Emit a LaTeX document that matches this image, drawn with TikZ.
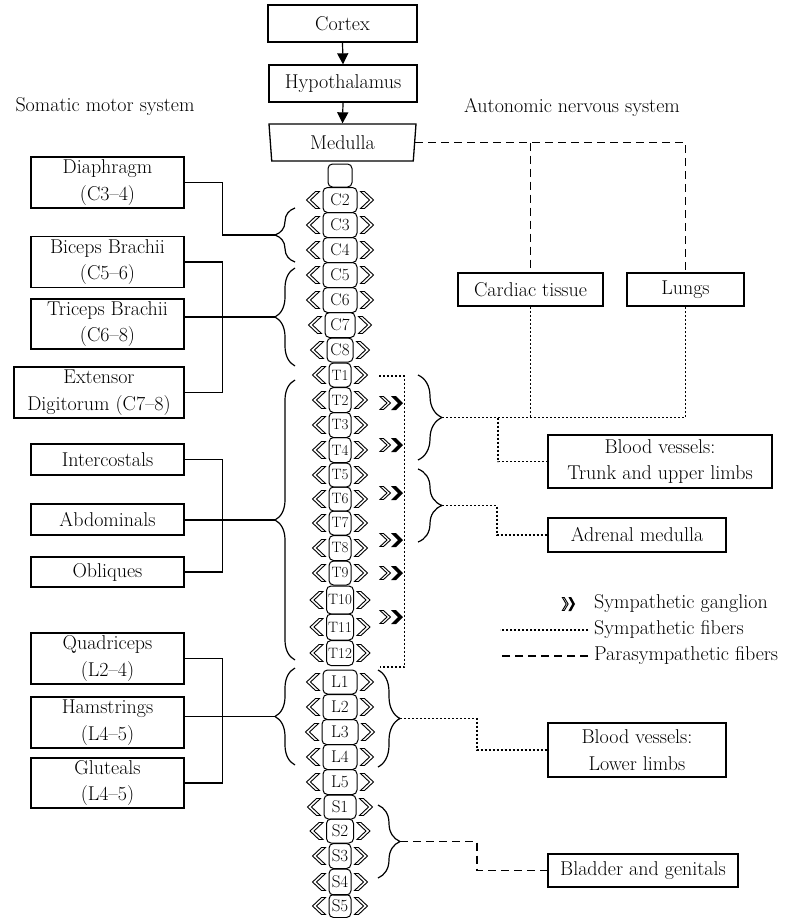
\documentclass[tikz,border=0pt]{standalone}
\usepackage{fontspec}
\usetikzlibrary{arrows.meta,shapes.geometric,decorations.pathreplacing,calc}
\tikzset{
  lchev/.pic={\draw[line width=0.9pt,line join=miter] (-7,-8.5) -- (-16,0) -- (-7,8.5) -- (-3,8.5) -- (-12,0) -- (-3,-8.5) -- cycle;},
  rchev/.pic={\draw[line width=0.9pt,line join=miter] (7,-8.5) -- (16,0) -- (7,8.5) -- (3,8.5) -- (12,0) -- (3,-8.5) -- cycle;},
  ganglion/.pic={
    \draw[line width=0.9pt,line join=miter] (-23,-6.5) -- (-16,0) -- (-23,6.5) -- (-19.5,6.5) -- (-12.5,0) -- (-19.5,-6.5) -- cycle;
    \fill (-12,-7) -- (-5,0) -- (-12,7) -- (-7,7) -- (0,0) -- (-7,-7) -- cycle;
  },
}
\begin{document}
\begin{tikzpicture}[x=1pt,y=-1pt,
  every node/.style={font=\fontsize{20}{26.5}\selectfont},
  box/.style={draw, line width=1.3pt, inner sep=0pt, align=center},
  vbox/.style={draw, line width=1pt, rounded corners=4.5pt, inner sep=0pt},
  lbl/.style={inner sep=0pt},
  conn/.style={line width=1.2pt},
  arr/.style={line width=1.2pt, -{Triangle[length=11pt,width=11pt]}},
  symp/.style={line width=1.2pt, dash pattern=on 2pt off 2pt},
  para/.style={line width=1.2pt, dash pattern=on 8pt off 5pt},
  lbrace/.style={line width=1.2pt, decorate, decoration={brace, amplitude=20pt}},
  rbraceA/.style={line width=1.2pt, decorate, decoration={brace, amplitude=24pt}},
  rbraceB/.style={line width=1.2pt, decorate, decoration={brace, amplitude=22pt}},
]
\useasboundingbox (0,0) rectangle (798,918);

% top chain
\node[box, minimum width=149pt, minimum height=37pt] (cortex) at (342.5,23.5) {Cortex};
\node[box, minimum width=148pt, minimum height=37pt] (hypo) at (343,83.5) {Hypothalamus};
\node[draw, line width=1.3pt, trapezium, trapezium left angle=101, trapezium right angle=101,
      trapezium stretches body, minimum width=147pt, minimum height=37pt, inner sep=0pt] (medulla) at (342.5,142.5) {Medulla};
\draw[arr] (cortex.south) -- (hypo.north);
\draw[arr] (hypo.south) -- (medulla.north);

% headers
\node[lbl] (somatic) at (105,107) {Somatic motor system};
\node[lbl] (autonomic) at (572,107) {Autonomic nervous system};

% spinal column
\node[vbox, minimum width=24pt, minimum height=23pt] (vtop) at (340,175.5) {};
\foreach \n/\y/\w/\h/\f in {C2/200/34/25/17, C3/225/34/25/17, C4/250/34/25/17, C5/275/34/25/17,
  C6/300/34/25/17, C7/325/30/25/17, C8/350/26/24/17, T1/375/22/24/15, T2/400/22/25/15,
  T3/425/22/25/15, T4/450/22/25/15, T5/475/22/24/15, T6/499/22/24/15, T7/523/22/24/15,
  T8/548/22/25/15, T9/573/22/24/15, T10/600/27/28/15, T11/627/27/26/15, T12/653/27/25/15,
  L1/682/34/24/17, L2/707/34/25/17, L3/732/36/25/17, L4/757/34/25/17, L5/782/34/25/17,
  S1/807/32/24/17, S2/831/27/24/17, S3/856/22/25/17, S4/882/22/26/17, S5/906/22/23/17}{
  \node[vbox, minimum width=\w pt, minimum height=\h pt, font=\fontsize{\f}{\f}\selectfont] (v\n) at (340,\y) {\n};
  \pic at (v\n.west) {lchev};
  \pic at (v\n.east) {rchev};
}

% left muscle boxes
\node[box, minimum width=153pt, minimum height=51pt] (diaphragm) at (107.5,182.5) {Diaphragm\\(C3--4)};
\node[box, minimum width=153pt, minimum height=51pt] (biceps) at (107.5,262) {Biceps Brachii\\(C5--6)};
\node[box, minimum width=153pt, minimum height=50pt] (triceps) at (107.5,324) {Triceps Brachii\\(C6--8)};
\node[box, minimum width=170pt, minimum height=51pt] (extensor) at (99,392.5) {Extensor\\Digitorum (C7--8)};
\node[box, minimum width=153pt, minimum height=31pt] (intercostals) at (107.5,459.5) {Intercostals};
\node[box, minimum width=153pt, minimum height=31pt] (abdominals) at (107.5,519.5) {Abdominals};
\node[box, minimum width=153pt, minimum height=30pt] (obliques) at (107.5,572) {Obliques};
\node[box, minimum width=153pt, minimum height=51pt] (quadriceps) at (107.5,658.5) {Quadriceps\\(L2--4)};
\node[box, minimum width=153pt, minimum height=51pt] (hamstrings) at (107.5,722.5) {Hamstrings\\(L4--5)};
\node[box, minimum width=153pt, minimum height=50pt] (gluteals) at (107.5,783) {Gluteals\\(L4--5)};

% left braces
\draw[lbrace] (295,262) -- (295,208);
\draw[lbrace] (295,366) -- (295,268);
\draw[lbrace] (295,660) -- (295,380);
\draw[lbrace] (295,765) -- (295,668);
\coordinate (tC34) at (275,235);
\coordinate (tC58) at (275,317);
\coordinate (tT) at (275,520);
\coordinate (tL) at (275,716.5);

% left connectors
\draw[conn] (diaphragm.east) -- ++(38,0) |- (tC34);
\draw[conn] (biceps.east) -- ++(38,0) |- (extensor.east);
\draw[conn] (triceps.east |- tC58) -- (tC58);
\draw[conn] (intercostals.east) -- ++(38,0) |- (obliques.east);
\draw[conn] (abdominals.east |- tT) -- (tT);
\draw[conn] (quadriceps.east) -- ++(38,0) |- (gluteals.east);
\draw[conn] (hamstrings.east |- tL) -- (tL);

% right target boxes
\node[box, minimum width=145pt, minimum height=33pt] (cardiac) at (530.5,289.5) {Cardiac tissue};
\node[box, minimum width=117pt, minimum height=33pt] (lungs) at (685.5,289.5) {Lungs};
\node[box, minimum width=224pt, minimum height=53pt] (bvtrunk) at (660,461.5) {Blood vessels:\\Trunk and upper limbs};
\node[box, minimum width=178pt, minimum height=34pt] (adrenal) at (637,535) {Adrenal medulla};
\node[box, minimum width=178pt, minimum height=54pt] (bvlower) at (637,750) {Blood vessels:\\Lower limbs};
\node[box, minimum width=190pt, minimum height=33pt] (bladder) at (643,870.5) {Bladder and genitals};

% parasympathetic from medulla
\draw[para] (medulla.east) -- (lungs.north |- medulla.east) -- (lungs.north);
\draw[para] (cardiac.north |- medulla.east) -- (cardiac.north);

% sympathetic chain
\coordinate (chainA) at (379,376);
\coordinate (chainB) at (404.5,376);
\coordinate (chainC) at (404.5,667);
\coordinate (chainD) at (380,667);
\draw[symp] (chainA) -- (chainB) -- (chainC) -- (chainD);
\foreach \gy in {403,445,493,540,573,617}{
  \pic at (403,\gy) {ganglion};
}

% right braces
\draw[rbraceA] (418,375) -- (418,460);
\draw[rbraceA] (418,469) -- (418,542);
\draw[rbraceB] (378,670) -- (378,767);
\draw[rbraceB] (378,805) -- (378,878);
\coordinate (rT14) at (442,417.5);
\coordinate (rT58) at (442,505.5);
\coordinate (rL) at (400,718.5);
\coordinate (rS) at (400,841.5);

% right connectors
\draw[symp] (rT14) -- (lungs.south |- rT14) -- (lungs.south);
\draw[symp] (cardiac.south) -- (cardiac.south |- rT14);
\draw[symp] ($(rT14)+(56,0)$) |- (bvtrunk.west);
\draw[symp] (rT58) -- ++(55,0) |- (adrenal.west);
\draw[symp] (rL) -- ++(77,0) |- (bvlower.west);
\draw[para] (rS) -- ++(77,0) |- (bladder.west);

% legend
\pic[xscale=0.55] at (575,604) {ganglion};
\node[lbl, anchor=west] (lgg) at (594,604) {Sympathetic ganglion};
\node[lbl, anchor=west] (lgs) at (594,630) {Sympathetic fibers};
\node[lbl, anchor=west] (lgp) at (594,656) {Parasympathetic fibers};
\draw[symp] ($(lgs.west)+(-6,0)$) -- ++(-88,0);
\draw[para] ($(lgp.west)+(-6,0)$) -- ++(-90,0);
\end{tikzpicture}
\end{document}
